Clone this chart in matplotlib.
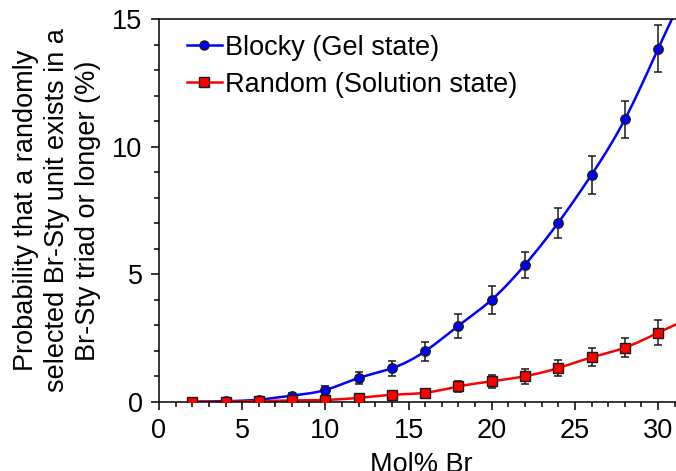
import numpy as np
import matplotlib
matplotlib.use('Agg')
import matplotlib.pyplot as plt
from matplotlib.ticker import MultipleLocator
from matplotlib.lines import Line2D

plt.rcParams['font.family'] = ['Liberation Sans', 'DejaVu Sans']

mol_br = np.array([2, 4, 6, 8, 10, 12, 14, 16, 18, 20, 22, 24, 26, 28, 30], dtype=float)

blocky = np.array([0.0, 0.02, 0.08, 0.24, 0.46, 0.93, 1.31, 1.98, 2.98, 4.0, 5.37, 7.02, 8.9, 11.07, 13.85])
blocky_err = np.array([0.02, 0.03, 0.05, 0.1, 0.17, 0.22, 0.29, 0.37, 0.47, 0.55, 0.52, 0.59, 0.74, 0.73, 0.93])

random_ = np.array([0.0, 0.0, 0.03, 0.05, 0.07, 0.15, 0.27, 0.35, 0.6, 0.8, 1.0, 1.32, 1.74, 2.12, 2.71])
random_err = np.array([0.01, 0.02, 0.03, 0.04, 0.05, 0.06, 0.07, 0.08, 0.2, 0.26, 0.3, 0.31, 0.35, 0.38, 0.5])

labels = ['Blocky (Gel state)', 'Random (Solution state)']


def spline_natural(x, y, xs):
    # natural cubic spline; past the last point it goes on with the last chord slope
    n = len(x)
    h = np.diff(x)
    A = np.zeros((n, n))
    r = np.zeros(n)
    A[0, 0] = A[-1, -1] = 1
    for i in range(1, n - 1):
        A[i, i - 1] = h[i - 1]
        A[i, i] = 2 * (h[i - 1] + h[i])
        A[i, i + 1] = h[i]
        r[i] = 3 * ((y[i + 1] - y[i]) / h[i] - (y[i] - y[i - 1]) / h[i - 1])
    c = np.linalg.solve(A, r)
    b = (y[1:] - y[:-1]) / h - h * (2 * c[:-1] + c[1:]) / 3
    d = (c[1:] - c[:-1]) / (3 * h)
    idx = np.clip(np.searchsorted(x, xs) - 1, 0, n - 2)
    dx = xs - x[idx]
    ys = y[idx] + b[idx] * dx + c[idx] * dx ** 2 + d[idx] * dx ** 3
    fora = xs > x[-1]
    ys[fora] = y[-1] + (y[-1] - y[-2]) / h[-1] * (xs[fora] - x[-1])
    return ys


fig = plt.figure(figsize=(6.76, 4.71), dpi=100)
ax = fig.add_axes([159 / 676, 69.3 / 471, 524 / 676, 382.4 / 471])

xs = np.linspace(mol_br[0], 31.5, 400)
series = [
    (blocky, blocky_err, 'blue', 'o'),
    (random_, random_err, 'red', 's'),
]
handles = []
for (vals, err, cor, mk), lab in zip(series, labels):
    ax.plot(xs, spline_natural(mol_br, vals, xs), color=cor, lw=1.8, zorder=2)
    ax.errorbar(mol_br, vals, yerr=err, fmt='none', ecolor='#1a1a1a',
                elinewidth=1.1, capsize=2.8, capthick=1.1, zorder=3)
    ax.plot(mol_br, vals, linestyle='none', marker=mk, markersize=6.8,
            markerfacecolor=cor, markeredgecolor='#1a1a1a', markeredgewidth=1.0, zorder=4)
    handles.append(Line2D([], [], color=cor, lw=1.8, marker=mk, markersize=6.5,
                          markerfacecolor=cor, markeredgecolor='#1a1a1a', markeredgewidth=1.0))

ax.set_xlim(0, 31.5)
ax.set_ylim(0, 15)
ax.xaxis.set_major_locator(MultipleLocator(5))
ax.xaxis.set_minor_locator(MultipleLocator(1))
ax.yaxis.set_major_locator(MultipleLocator(5))
ax.yaxis.set_minor_locator(MultipleLocator(1))
ax.tick_params(which='both', direction='out', width=1.1, labelsize=19.5, pad=6)
ax.tick_params(which='major', length=5.8)
ax.tick_params(which='minor', length=3.6)
for s in ax.spines.values():
    s.set_linewidth(1.1)

ax.set_xlabel('Mol% Br', fontsize=19.5, labelpad=6)
ax.set_ylabel('Probability that a randomly\nselected Br-Sty unit exists in a\nBr-Sty triad or longer (%)',
              fontsize=19.5, labelpad=8, linespacing=1.25)

ax.legend(handles, labels, loc='upper left', bbox_to_anchor=(0.053, 0.960),
          frameon=False, fontsize=19.5, handlelength=1.3, handletextpad=0.1,
          borderaxespad=0, borderpad=0, labelspacing=0.42)

fig.savefig('out.png', dpi=100)
plt.close(fig)
